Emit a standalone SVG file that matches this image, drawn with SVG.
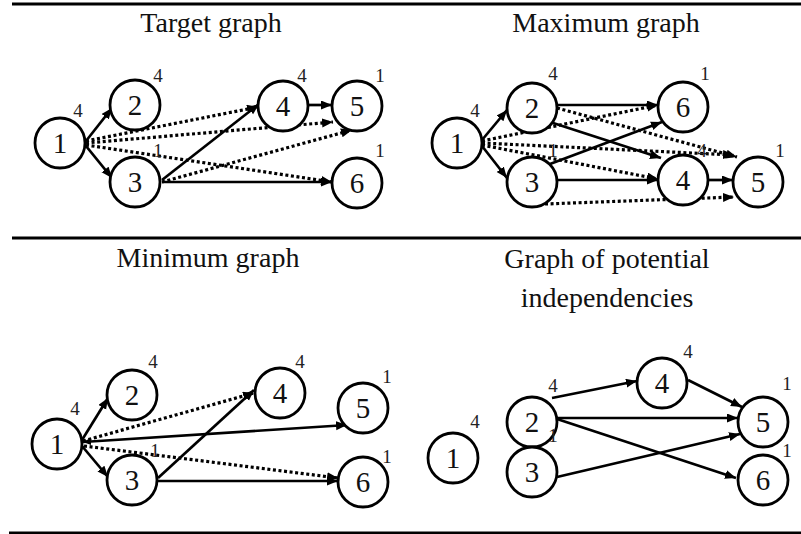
<svg xmlns="http://www.w3.org/2000/svg" width="801" height="534" viewBox="0 0 801 534">
<defs>
<marker id="ah" markerUnits="userSpaceOnUse" markerWidth="12" markerHeight="10" refX="11" refY="4.5" orient="auto-start-reverse">
<path d="M0,0 L11,4.5 L0,9 Z" fill="#000"/>
</marker>
<marker id="ahs" markerUnits="userSpaceOnUse" markerWidth="9" markerHeight="8" refX="8" refY="3.5" orient="auto-start-reverse">
<path d="M0,0 L8,3.5 L0,7 Z" fill="#000"/>
</marker>
</defs>
<style>
text{font-family:'Liberation Serif','Times New Roman',Times,'DejaVu Serif',serif}
.title{font-size:28px;text-anchor:middle;fill:#111}
.nd circle{fill:#fff;stroke:#000;stroke-width:2.8}
.nd text{font-size:29px;text-anchor:middle;fill:#111}
.lb{font-size:19px;text-anchor:middle;fill:#222}
.s{stroke:#000;stroke-width:2.7;fill:none;marker-end:url(#ah)}
.d{stroke:#000;stroke-width:3.2;stroke-dasharray:3 2.6;fill:none;marker-end:url(#ah)}
.rule{stroke:#000;stroke-width:3}
</style>
<rect width="801" height="534" fill="#fff"/>
<line class="rule" x1="12" y1="4" x2="801" y2="4"/>
<line class="rule" x1="12" y1="238" x2="801" y2="238"/>
<line class="rule" x1="9" y1="533" x2="801" y2="533"/>

<g font-family="'Liberation Serif', 'Times New Roman', serif">
<text class="title" x="211" y="32">Target graph</text>
<text class="title" x="606" y="32">Maximum graph</text>
<text class="title" x="208" y="267">Minimum graph</text>
<text class="title" x="607" y="268">Graph of potential</text>
<text class="title" x="607" y="307">independencies</text>
</g>

<!-- Target graph connectors -->
<g id="target-edges">
<line class="s" x1="86" y1="141" x2="112" y2="108"/>
<line class="s" x1="86" y1="146" x2="112" y2="178"/>
<line class="d" x1="86" y1="141" x2="258" y2="107"/>
<line class="d" x1="86" y1="143" x2="333" y2="122"/>
<line class="d" x1="86" y1="145" x2="332" y2="182"/>
<line class="s" x1="162" y1="180" x2="259" y2="104"/>
<line class="d" x1="162" y1="182" x2="352" y2="130"/>
<line class="s" x1="162" y1="182" x2="332" y2="182"/>
<line class="s" x1="308" y1="105" x2="332" y2="105"/>
</g>
<g id="t1" class="nd"><circle cx="60" cy="143" r="25"/><text x="60" y="153">1</text></g>
<g id="t2" class="nd"><circle cx="135" cy="105" r="25"/><text x="135" y="115">2</text></g>
<g id="t3" class="nd"><circle cx="135" cy="182" r="25"/><text x="135" y="192">3</text></g>
<g id="t4" class="nd"><circle cx="283" cy="106" r="25"/><text x="283" y="116">4</text></g>
<g id="t5" class="nd"><circle cx="357" cy="106" r="25"/><text x="357" y="116">5</text></g>
<g id="t6" class="nd"><circle cx="357" cy="183" r="25"/><text x="357" y="193">6</text></g>
<g id="target-labels">
<text class="lb" x="78" y="117">4</text>
<text class="lb" x="158" y="82">4</text>
<text class="lb" x="302" y="82">4</text>
<text class="lb" x="380" y="82">1</text>
<text class="lb" x="158" y="157">1</text>
<text class="lb" x="380" y="157">1</text>
</g>

<!-- Maximum graph connectors -->
<g id="max-edges">
<line class="s" x1="482" y1="140" x2="507" y2="110"/>
<line class="s" x1="482" y1="146" x2="507" y2="178"/>
<line class="d" x1="482" y1="141" x2="658" y2="105"/>
<line class="d" x1="482" y1="143" x2="734" y2="155"/>
<line class="d" x1="482" y1="145" x2="658" y2="179"/>
<line class="s" x1="557" y1="105" x2="658" y2="105"/>
<line class="d" x1="557" y1="108" x2="737" y2="157"/>
<line class="s" x1="550" y1="122" x2="661" y2="158"/>
<line class="s" x1="550" y1="164" x2="662" y2="122"/>
<line class="s" x1="557" y1="180" x2="658" y2="180"/>
<line class="d" x1="545" y1="204" x2="734" y2="197"/>
<line class="s" x1="708" y1="180" x2="733" y2="180"/>
</g>
<g id="m1" class="nd"><circle cx="457" cy="143" r="25"/><text x="457" y="153">1</text></g>
<g id="m2" class="nd"><circle cx="532" cy="108" r="25"/><text x="532" y="118">2</text></g>
<g id="m3" class="nd"><circle cx="532" cy="182" r="25"/><text x="532" y="192">3</text></g>
<g id="m6" class="nd"><circle cx="683" cy="107" r="25"/><text x="683" y="117">6</text></g>
<g id="m4" class="nd"><circle cx="683" cy="180" r="25"/><text x="683" y="190">4</text></g>
<g id="m5" class="nd"><circle cx="758" cy="182" r="25"/><text x="758" y="192">5</text></g>
<g id="max-labels">
<text class="lb" x="475" y="117">4</text>
<text class="lb" x="553" y="80">4</text>
<text class="lb" x="705" y="80">1</text>
<text class="lb" x="553" y="157">1</text>
<text class="lb" x="702" y="157">4</text>
<text class="lb" x="780" y="157">1</text>
</g>

<!-- Minimum graph connectors -->
<g id="min-edges">
<line class="s" x1="82" y1="440" x2="108" y2="398"/>
<line class="s" x1="82" y1="446" x2="108" y2="477"/>
<line class="d" x1="83" y1="441" x2="254" y2="393"/>
<line class="s" x1="83" y1="442" x2="347" y2="425" marker-start="url(#ahs)"/>
<line class="d" x1="84" y1="446" x2="338" y2="478"/>
<line class="s" x1="158" y1="478" x2="254" y2="390"/>
<line class="s" x1="157" y1="481" x2="338" y2="481"/>
</g>
<g id="n1" class="nd"><circle cx="57" cy="444" r="25"/><text x="57" y="454">1</text></g>
<g id="n2" class="nd"><circle cx="132" cy="395" r="25"/><text x="132" y="405">2</text></g>
<g id="n3" class="nd"><circle cx="132" cy="480" r="25"/><text x="132" y="490">3</text></g>
<g id="n4" class="nd"><circle cx="280" cy="393" r="25"/><text x="280" y="403">4</text></g>
<g id="n5" class="nd"><circle cx="363" cy="408" r="25"/><text x="363" y="418">5</text></g>
<g id="n6" class="nd"><circle cx="363" cy="482" r="25"/><text x="363" y="492">6</text></g>
<g id="min-labels">
<text class="lb" x="75" y="415">4</text>
<text class="lb" x="153" y="368">4</text>
<text class="lb" x="300" y="368">4</text>
<text class="lb" x="387" y="383">1</text>
<text class="lb" x="155" y="457">1</text>
<text class="lb" x="387" y="463">1</text>
</g>

<!-- Independencies graph connectors -->
<g id="ind-edges">
<line class="s" x1="552" y1="398" x2="637" y2="381"/>
<line class="s" x1="557" y1="418" x2="738" y2="418"/>
<line class="s" x1="557" y1="419" x2="736" y2="478"/>
<line class="s" x1="557" y1="477" x2="740" y2="434"/>
<line class="s" x1="688" y1="380" x2="742" y2="407"/>
</g>
<g id="i1" class="nd"><circle cx="453" cy="458" r="25"/><text x="453" y="468">1</text></g>
<g id="i2" class="nd"><circle cx="532" cy="422" r="25"/><text x="532" y="432">2</text></g>
<g id="i3" class="nd"><circle cx="532" cy="472" r="25"/><text x="532" y="482">3</text></g>
<g id="i4" class="nd"><circle cx="662" cy="383" r="25"/><text x="662" y="393">4</text></g>
<g id="i5" class="nd"><circle cx="763" cy="422" r="25"/><text x="763" y="432">5</text></g>
<g id="i6" class="nd"><circle cx="763" cy="480" r="25"/><text x="763" y="490">6</text></g>
<g id="ind-labels">
<text class="lb" x="475" y="428">4</text>
<text class="lb" x="553" y="392">4</text>
<text class="lb" x="553" y="442">1</text>
<text class="lb" x="688" y="358">4</text>
<text class="lb" x="787" y="390">1</text>
<text class="lb" x="787" y="457">1</text>
</g>
</svg>
